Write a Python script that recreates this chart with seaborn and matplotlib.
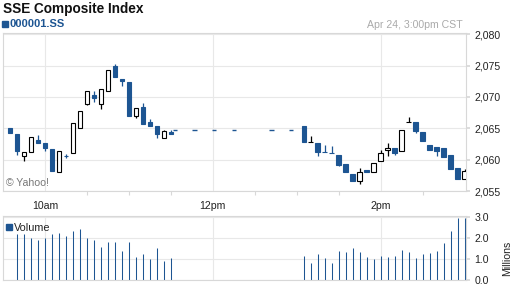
import numpy as np
import pandas as pd
import matplotlib
matplotlib.use("Agg")
import matplotlib.pyplot as plt
import seaborn as sns
from matplotlib.patches import Rectangle

# ---------------- data ----------------
times = ["09:35", "09:40", "09:45", "09:50", "09:55", "10:00", "10:05", "10:10",
         "10:15", "10:20", "10:25", "10:30", "10:35", "10:40", "10:45", "10:50",
         "10:55", "11:00", "11:05", "11:10", "11:15", "11:20", "11:25", "11:30",
         "13:05", "13:10", "13:15", "13:20", "13:25", "13:30", "13:35", "13:40",
         "13:45", "13:50", "13:55", "14:00", "14:05", "14:10", "14:15", "14:20",
         "14:25", "14:30", "14:35", "14:40", "14:45", "14:50", "14:55", "15:00"]

opens = [2065.05, 2064.10, 2060.63, 2061.26, 2063.15, 2062.68, 2061.73, 2058.10,
         2060.60, 2061.10, 2065.05, 2068.84, 2070.26, 2068.84, 2070.89, 2075.00,
         2072.94, 2072.31, 2066.94, 2068.36, 2066.00, 2065.36, 2063.47, 2064.42,
         2065.36, 2062.84, 2062.68, 2061.28, 2061.12, 2060.78, 2059.36, 2057.78,
         2056.52, 2058.41, 2058.10, 2059.84, 2061.57, 2061.89, 2061.41, 2066.00,
         2066.00, 2064.42, 2062.36, 2062.05, 2061.89, 2060.78, 2058.73, 2056.99]
highs = [2065.05, 2064.10, 2061.26, 2063.63, 2063.94, 2062.68, 2061.73, 2061.41,
         2060.83, 2065.84, 2067.73, 2070.89, 2070.89, 2071.20, 2074.36, 2075.31,
         2072.94, 2072.31, 2068.20, 2068.99, 2066.47, 2065.36, 2064.73, 2064.73,
         2065.36, 2063.78, 2062.68, 2062.36, 2062.20, 2060.78, 2059.36, 2057.78,
         2058.73, 2058.41, 2059.52, 2061.57, 2062.68, 2061.89, 2064.73, 2066.79,
         2066.00, 2064.42, 2062.36, 2062.05, 2061.89, 2060.78, 2058.73, 2058.57]
lows = [2064.26, 2060.78, 2059.84, 2061.26, 2062.68, 2061.41, 2058.26, 2058.10,
        2060.31, 2061.10, 2065.05, 2068.68, 2069.15, 2068.05, 2070.89, 2073.26,
        2071.68, 2066.94, 2066.63, 2065.68, 2065.36, 2063.47, 2063.47, 2064.10,
        2062.84, 2062.84, 2060.63, 2061.22, 2061.06, 2059.05, 2058.10, 2056.52,
        2056.05, 2058.10, 2058.10, 2059.84, 2060.63, 2060.78, 2061.41, 2066.00,
        2064.26, 2063.00, 2061.57, 2060.63, 2060.47, 2058.57, 2056.99, 2056.99]
closes = [2064.26, 2061.41, 2061.26, 2063.63, 2062.68, 2061.89, 2058.26, 2061.41,
          2060.55, 2065.84, 2067.73, 2070.89, 2069.78, 2071.20, 2074.36, 2073.26,
          2072.47, 2066.94, 2068.20, 2065.68, 2065.36, 2064.10, 2064.57, 2064.10,
          2062.84, 2062.84, 2061.26, 2061.22, 2061.06, 2059.20, 2058.10, 2056.52,
          2058.10, 2058.10, 2059.52, 2061.10, 2061.89, 2061.10, 2064.73, 2066.00,
          2064.57, 2063.00, 2061.57, 2061.41, 2060.47, 2058.57, 2056.99, 2058.26]

# volume in millions (first bar of the day is not shown)
volume = [np.nan, 2.20, 2.20, 2.01, 1.92, 2.01, 2.19, 2.25, 2.11, 2.35, 2.44, 2.01,
          1.92, 1.59, 1.83, 1.81, 1.40, 1.81, 1.11, 1.25, 1.01, 1.54, 0.92, 1.06,
          1.14, 0.82, 1.24, 1.06, 0.82, 1.38, 1.33, 1.54, 1.33, 1.08, 1.01, 1.16,
          1.10, 1.16, 1.43, 1.33, 1.06, 1.22, 1.30, 1.40, 1.78, 2.35, 2.97, 2.97]

lunch_times = ["11:33", "11:47", "12:01", "12:15", "12:42", "12:56"]
lunch_price = [2064.73, 2064.73, 2064.73, 2064.73, 2064.73, 2064.73]

xtick_times = ["10:00", "12:00", "14:00"]
xtick_labels = ["10am", "12pm", "2pm"]
price_ticks = [2055, 2060, 2065, 2070, 2075, 2080]
price_labels = ["2,055", "2,060", "2,065", "2,070", "2,075", "2,080"]
vol_ticks = [0, 1, 2, 3]
vol_labels = ["0.0", "1.0", "2.0", "3.0"]


def minutes(s):
    h, m = s.split(":")
    return (int(h) - 9) * 60 + int(m) - 30


t = np.array([minutes(s) for s in times], dtype=float)
o, h, l, c = map(np.array, (opens, highs, lows, closes))

BLUE = "#1d5592"
GRID = "#e8e8e8"
SPINE = "#d8d8d8"
TXT = "#222222"

sns.set_theme(style="white")
plt.rcParams["font.family"] = ["Liberation Sans", "DejaVu Sans"]

W, H = 512, 288
fig = plt.figure(figsize=(W / 100, H / 100), dpi=100)
fig.patch.set_facecolor("white")


def fx(px):
    return px / W


def fy(py):
    return 1 - py / H


ax = fig.add_axes([fx(3), fy(191), (466 - 3) / W, (191 - 33) / H])
axv = fig.add_axes([fx(3), fy(280), (466 - 3) / W, (280 - 216) / H])

XMIN, XMAX = 0, 331
major_x = [minutes(s) for s in xtick_times]
minor_x = [60, 90, 120, 180, 210, 240, 300]

for a in (ax, axv):
    a.set_xlim(XMIN, XMAX)
    for s in a.spines.values():
        s.set_color(SPINE)
        s.set_linewidth(0.8)
    a.set_axisbelow(True)

# ---------------- price panel ----------------
BODY_W = 3.2
for ti, oi, hi, li, ci in zip(t, o, h, l, c):
    if ci > oi:
        face, edge = "white", "black"
    elif ci < oi:
        face, edge = BLUE, BLUE
    else:
        face, edge = "black", "black"
    if hi > max(oi, ci) or li < min(oi, ci):
        ax.vlines(ti, li, hi, color=edge, lw=0.9, zorder=2)
    ax.bar(ti, abs(ci - oi), bottom=min(oi, ci), width=BODY_W, color=face,
           edgecolor=edge, linewidth=0.8, zorder=3)

lt = np.array([minutes(s) for s in lunch_times], dtype=float)
ax.hlines(lunch_price, lt - BODY_W / 2, lt + BODY_W / 2, color=BLUE, lw=1.0, zorder=3)

ax.set_ylim(2055.1, 2080.2)
ax.yaxis.tick_right()
ax.set_yticks(price_ticks)
ax.set_yticklabels(price_labels)
ax.set_xticks(major_x)
ax.set_xticklabels(xtick_labels)
ax.set_xticks(minor_x, minor=True)
ax.grid(True, axis="both", color=GRID, lw=0.8)
ax.tick_params(axis="y", which="major", right=True, length=3, color=SPINE, pad=3,
               labelsize=7.6, labelcolor=TXT)
ax.tick_params(axis="x", which="major", bottom=False, length=0, pad=7,
               labelsize=7.6, labelcolor=TXT)
ax.tick_params(axis="x", which="minor", bottom=True, length=3, color=SPINE, width=0.8)

# ---------------- volume panel ----------------
vol_df = pd.DataFrame({"t": t, "vol": volume}).dropna()
sns.barplot(data=vol_df, x="t", y="vol", native_scale=True, width=0.02,
            color=BLUE, errorbar=None, edgecolor=BLUE, linewidth=0.75,
            saturation=1, ax=axv)
axv.set_xlim(XMIN, XMAX)
axv.set_ylim(0, 3.05)
axv.set_xlabel("")
axv.set_ylabel("")
axv.yaxis.tick_right()
axv.set_yticks(vol_ticks)
axv.set_yticklabels(vol_labels)
axv.set_xticks(major_x)
axv.set_xticklabels([])
axv.set_xticks(minor_x, minor=True)
axv.grid(True, axis="both", color=GRID, lw=0.8)
axv.tick_params(axis="y", which="major", right=True, length=3, color=SPINE, pad=3,
                labelsize=7.6, labelcolor=TXT)
axv.tick_params(axis="x", which="both", bottom=False, length=0)

# ---------------- texts ----------------
fig.text(fx(3), fy(12.7), "SSE Composite Index", fontsize=9.8, fontweight="bold",
         color="#111111", ha="left", va="baseline")
fig.patches.append(Rectangle((fx(2), fy(27.3)), 5.5 / W, 6 / H,
                             transform=fig.transFigure, color=BLUE))
fig.text(fx(9.5), fy(27.3), "000001.SS", fontsize=8.0, fontweight="bold",
         color=BLUE, ha="left", va="baseline")
fig.text(fx(463), fy(27.8), "Apr 24, 3:00pm CST", fontsize=7.6, color="#aaaaaa",
         ha="right", va="baseline")
fig.text(fx(6), fy(186.5), "\u00a9 Yahoo!", fontsize=7.6, color="#777777",
         ha="left", va="baseline")
fig.patches.append(Rectangle((fx(6), fy(229.5)), 5.5 / W, 6 / H,
                             transform=fig.transFigure, color=BLUE))
fig.text(fx(14), fy(231), "Volume", fontsize=7.8, color=TXT, ha="left", va="baseline")
fig.text(fx(507), fy(258), "Millions", fontsize=7.6, color=TXT, rotation=90,
         ha="center", va="center")

fig.savefig("out.png", dpi=100, facecolor="white")
